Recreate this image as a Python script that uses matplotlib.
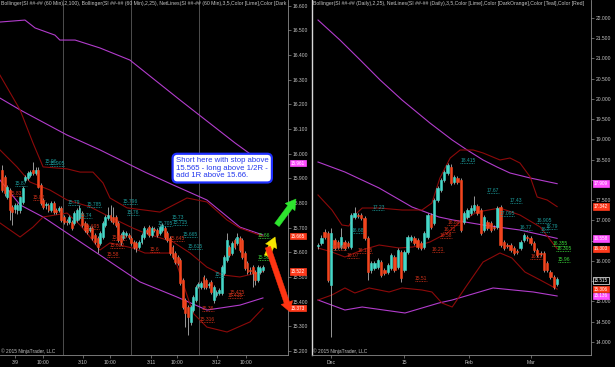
import matplotlib.pyplot as plt

plt.rcParams['font.family'] = ['Liberation Sans', 'DejaVu Sans']

UP = '#46d8c9'
DOWN = '#f2451e'
WICK = '#b0b0b0'
BB_RED = '#8c0a0a'
BB_MAG = '#b23ccc'
NL_TEAL = '#1c9c9c'
NL_RED = '#d2321a'
NL_LIME = '#3ad83a'
TXT = '#c4c4c4'

# ---------------- left panel: 60 min bars ----------------
l_open = [15.933, 15.905, 15.824, 15.852, 15.784, 15.775, 15.771, 15.771, 15.804, 15.893,
          15.901, 15.913, 15.933, 15.921, 15.933, 15.873, 15.812, 15.790, 15.792, 15.771,
          15.800, 15.772, 15.771, 15.780, 15.743, 15.728, 15.723, 15.723, 15.719, 15.731,
          15.739, 15.759, 15.719, 15.711, 15.690, 15.698, 15.670, 15.658, 15.638, 15.662,
          15.711, 15.739, 15.751, 15.743, 15.743, 15.719, 15.670, 15.658, 15.672, 15.670,
          15.658, 15.642, 15.638, 15.621, 15.642, 15.662, 15.690, 15.702, 15.670, 15.694,
          15.690, 15.678, 15.690, 15.698, 15.678, 15.658, 15.621, 15.597, 15.581, 15.569,
          15.488, 15.407, 15.378, 15.318, 15.366, 15.407, 15.462, 15.459, 15.500, 15.488,
          15.466, 15.480, 15.405, 15.427, 15.435, 15.435, 15.516, 15.569, 15.621, 15.597,
          15.650, 15.638, 15.658, 15.650, 15.597, 15.557, 15.530, 15.540, 15.520, 15.488,
          15.520, 15.528]
l_high = [15.954, 15.915, 15.873, 15.860, 15.792, 15.800, 15.800, 15.830, 15.870, 15.915,
          15.930, 15.935, 15.966, 15.945, 15.945, 15.880, 15.820, 15.804, 15.800, 15.808,
          15.808, 15.780, 15.788, 15.788, 15.751, 15.735, 15.751, 15.731, 15.767, 15.780,
          15.792, 15.767, 15.727, 15.719, 15.706, 15.706, 15.678, 15.666, 15.686, 15.727,
          15.751, 15.784, 15.792, 15.784, 15.751, 15.727, 15.678, 15.690, 15.686, 15.678,
          15.666, 15.650, 15.646, 15.650, 15.678, 15.706, 15.698, 15.710, 15.706, 15.702,
          15.698, 15.711, 15.720, 15.706, 15.686, 15.666, 15.630, 15.605, 15.589, 15.577,
          15.496, 15.415, 15.386, 15.386, 15.427, 15.467, 15.480, 15.484, 15.508, 15.496,
          15.478, 15.488, 15.467, 15.447, 15.455, 15.548, 15.589, 15.678, 15.630, 15.646,
          15.658, 15.678, 15.666, 15.658, 15.605, 15.565, 15.540, 15.548, 15.528, 15.548,
          15.544, 15.548]
l_low = [15.845, 15.830, 15.815, 15.731, 15.711, 15.760, 15.755, 15.760, 15.795, 15.885,
         15.893, 15.905, 15.913, 15.913, 15.860, 15.792, 15.775, 15.775, 15.763, 15.763,
         15.755, 15.755, 15.763, 15.723, 15.715, 15.711, 15.715, 15.690, 15.711, 15.723,
         15.731, 15.702, 15.682, 15.674, 15.682, 15.650, 15.634, 15.597, 15.630, 15.654,
         15.702, 15.731, 15.723, 15.715, 15.702, 15.642, 15.630, 15.650, 15.662, 15.654,
         15.630, 15.613, 15.601, 15.613, 15.634, 15.654, 15.674, 15.662, 15.662, 15.682,
         15.662, 15.670, 15.682, 15.654, 15.642, 15.589, 15.573, 15.553, 15.548, 15.467,
         15.370, 15.297, 15.265, 15.305, 15.358, 15.399, 15.455, 15.451, 15.451, 15.451,
         15.455, 15.431, 15.395, 15.419, 15.427, 15.427, 15.508, 15.561, 15.581, 15.589,
         15.613, 15.630, 15.601, 15.573, 15.528, 15.512, 15.512, 15.459, 15.467, 15.480,
         15.512, 15.520]
l_close = [15.852, 15.840, 15.865, 15.771, 15.763, 15.790, 15.792, 15.824, 15.861, 15.905,
           15.921, 15.925, 15.921, 15.933, 15.865, 15.800, 15.784, 15.795, 15.771, 15.800,
           15.763, 15.765, 15.780, 15.731, 15.723, 15.722, 15.743, 15.698, 15.759, 15.771,
           15.780, 15.711, 15.690, 15.682, 15.698, 15.658, 15.642, 15.621, 15.678, 15.719,
           15.743, 15.751, 15.731, 15.723, 15.711, 15.650, 15.642, 15.682, 15.678, 15.662,
           15.638, 15.621, 15.617, 15.642, 15.670, 15.698, 15.682, 15.670, 15.698, 15.690,
           15.670, 15.702, 15.711, 15.662, 15.650, 15.597, 15.581, 15.561, 15.557, 15.476,
           15.378, 15.354, 15.338, 15.378, 15.419, 15.459, 15.472, 15.476, 15.459, 15.459,
           15.470, 15.439, 15.459, 15.439, 15.447, 15.540, 15.581, 15.650, 15.589, 15.638,
           15.621, 15.662, 15.609, 15.581, 15.536, 15.520, 15.524, 15.516, 15.488, 15.540,
           15.536, 15.540]

l_sessions = [23.6, 49.9, 76.2]
l_tick_pos = [5.0, 15.9, 31.3, 41.8, 57.7, 67.7, 83.2, 94.4]
l_tick_lbl = ['3/9', '10:00', '3/10', '10:00', '3/11', '10:00', '3/12', '10:00']

l_bb100_up_x = [-0.8, 8.9, 12.8, 20.5, 22.4, 28.3, 37.9, 49.5, 68.9, 90.2, 101]
l_bb100_up = [16.533, 16.541, 16.509, 16.480, 16.460, 16.460, 16.428, 16.379, 16.217, 16.043, 15.961]
l_bb100_mid_x = [-0.8, 7, 25.2, 37.9, 55.3, 66.2, 79.3, 92.1, 101]
l_bb100_mid = [16.225, 16.177, 16.075, 16.015, 15.925, 15.873, 15.812, 15.702, 15.670]
l_bb100_lo_x = [-0.8, 7, 15.9, 37.9, 53.4, 67.7, 79.3, 92.1, 101]
l_bb100_lo = [15.893, 15.792, 15.743, 15.589, 15.480, 15.419, 15.366, 15.386, 15.415]
l_bb25_up_x = [-0.8, 7, 12, 15.9, 25.2, 30.2, 35.2, 39.1, 41.8, 48.4, 55.3, 61.1, 71.6, 79.3, 87.1, 92.1, 101]
l_bb25_up = [16.318, 16.177, 16.043, 15.946, 15.938, 15.925, 15.925, 15.881, 15.820, 15.780,
             15.771, 15.763, 15.820, 15.804, 15.731, 15.698, 15.665]
l_bb25_mid_x = [-0.8, 5.8, 10.8, 18.6, 25.2, 34.1, 41.8, 50.7, 55.3, 66.2, 72.8, 79.3, 85.5, 92.1, 101]
l_bb25_mid = [16.015, 15.946, 15.885, 15.852, 15.812, 15.784, 15.743, 15.698, 15.678, 15.642,
              15.597, 15.540, 15.508, 15.500, 15.522]
l_bb25_lo_x = [-0.8, 7, 12, 15.9, 25.2, 30.2, 34.1, 37.9, 41.8, 50.7, 55.3, 66.2, 73.9, 79.3, 87.1, 96, 101]
l_bb25_lo = [15.719, 15.662, 15.702, 15.743, 15.759, 15.711, 15.662, 15.609, 15.638, 15.617,
             15.597, 15.597, 15.354, 15.297, 15.277, 15.318, 15.373]

l_nl_text = ['15.96', '15.905', '15.87', '15.83', '15.82', '15.79', '15.785', '15.74', '15.695',
             '15.796', '15.76', '15.635', '15.632', '15.58', '15.705', '15.73', '15.715', '15.645',
             '15.665', '15.615', '15.6', '15.5', '15.425', '15.415', '15.36', '15.316', '15.66', '15.585']
l_nl_x = [16.6, 18.6, 5.0, 3.1, 12.0, 25.5, 32.9, 30.2, 32.1, 46.8, 48.4, 42.6, 41.8, 40.6,
          60.4, 65.8, 66.2, 65.0, 70.0, 72.0, 57.3, 82.4, 88.2, 87.5, 77.4, 76.6, 99.1, 99.1]
l_nl_level = [15.958, 15.950, 15.869, 15.828, 15.812, 15.792, 15.784, 15.739, 15.694, 15.796,
              15.751, 15.650, 15.617, 15.581, 15.707, 15.731, 15.711, 15.646, 15.662, 15.613,
              15.601, 15.500, 15.427, 15.415, 15.362, 15.318, 15.658, 15.569]
l_nl_kind = ['t', 't', 't', 'r', 'r', 't', 't', 't', 'r', 't', 't', 'r', 'r', 'r', 't', 't', 't', 'r',
             't', 't', 'r', 't', 'r', 'r', 'r', 'r', 'g', 'g']

l_tags = [15.961, 15.665, 15.522, 15.373]
l_tag_kind = ['m', 'r', 'r', 'r']

# ---------------- right panel: daily bars ----------------
r_open = [16.370, 16.444, 16.716, 16.691, 15.407, 16.518, 16.469, 16.346, 16.469, 16.444,
          16.346, 17.086, 17.136, 17.136, 17.062, 16.568, 15.778, 15.827, 15.850, 15.975,
          15.778, 15.728, 15.827, 16.100, 15.850, 16.222, 15.778, 16.222, 16.518, 16.568,
          16.518, 16.444, 16.346, 16.593, 17.136, 16.938, 17.506, 17.753, 17.999, 18.175,
          18.321, 17.950, 18.050, 17.999, 16.963, 17.086, 17.185, 17.259, 17.358, 17.259,
          16.765, 16.963, 16.938, 16.840, 16.839, 17.333, 16.469, 16.400, 16.395, 16.321,
          16.250, 16.321, 16.518, 16.600, 16.568, 16.444, 16.272, 16.200, 16.198, 15.951,
          15.728, 15.605, 15.432]
r_high = [16.450, 16.642, 16.780, 16.740, 16.815, 16.580, 16.520, 16.815, 16.520, 16.500,
          17.190, 17.333, 17.190, 17.190, 17.110, 16.620, 16.000, 16.000, 16.070, 16.030,
          15.830, 15.950, 16.200, 16.150, 16.330, 16.270, 16.270, 16.640, 16.640, 16.620,
          16.570, 16.490, 16.740, 17.190, 17.190, 17.560, 17.850, 18.050, 18.250, 18.420,
          18.400, 18.120, 18.100, 18.050, 17.240, 17.310, 17.380, 17.600, 17.410, 17.310,
          17.140, 17.010, 16.990, 16.890, 17.360, 17.380, 16.520, 16.450, 16.440, 16.370,
          16.300, 16.520, 16.690, 16.650, 16.620, 16.490, 16.320, 16.250, 16.250, 16.000,
          15.780, 15.650, 15.600]
r_low = [16.300, 16.400, 16.550, 15.480, 14.124, 16.270, 16.300, 16.300, 16.270, 16.320,
         16.300, 17.040, 17.050, 17.010, 16.520, 15.531, 15.700, 15.780, 15.800, 15.600,
         15.650, 15.680, 15.780, 15.730, 15.800, 15.481, 15.730, 16.170, 16.470, 16.400,
         16.300, 16.270, 16.300, 16.550, 16.790, 16.890, 17.460, 17.700, 17.950, 18.120,
         17.880, 17.900, 17.900, 16.720, 16.910, 17.040, 17.140, 17.210, 17.140, 16.640,
         16.720, 16.770, 16.720, 16.770, 16.790, 16.350, 16.270, 16.330, 16.220, 16.150,
         16.180, 16.270, 16.470, 16.500, 16.400, 16.220, 16.100, 16.120, 15.730, 15.730,
         15.560, 15.310, 15.380]
r_close = [16.390, 16.568, 16.593, 15.531, 16.691, 16.321, 16.346, 16.593, 16.321, 16.370,
           17.136, 17.185, 17.100, 17.062, 16.568, 15.728, 15.951, 15.951, 16.025, 15.654,
           15.700, 15.901, 16.148, 15.778, 16.272, 15.580, 16.222, 16.593, 16.593, 16.444,
           16.346, 16.321, 16.691, 17.136, 16.839, 17.506, 17.802, 17.999, 18.198, 18.370,
           17.926, 18.074, 17.950, 16.765, 17.185, 17.259, 17.308, 17.382, 17.185, 16.691,
           17.086, 16.815, 16.765, 16.815, 17.308, 16.395, 16.321, 16.380, 16.272, 16.198,
           16.230, 16.469, 16.642, 16.560, 16.444, 16.272, 16.148, 16.170, 15.778, 15.778,
           15.605, 15.358, 15.555]

r_tick_pos = [3.9, 25.9, 45.5, 64.2]
r_tick_lbl = ['Dec', '15', 'Feb', 'Mar']
# price ticks of the daily axis that sit under a value tag (hidden there)
r_hidden_ticks = [18.0, 16.5, 15.5]

r_mag_up_x = [0, 6.6, 12.7, 18.7, 25.3, 33.7, 40.4, 44.9, 49.7, 53.9, 57.8, 63.9, 72]
r_mag_up = [21.95, 21.456, 20.963, 20.469, 19.975, 19.407, 18.988, 18.741, 18.494, 18.321,
            18.173, 18.049, 17.909]
r_mag_mid_x = [0, 8.1, 18.4, 28.3, 36.4, 40.7, 49.7, 60.8, 72]
r_mag_mid = [18.444, 18.197, 17.802, 17.333, 17.086, 17.012, 16.889, 16.765, 16.558]
r_mag_lo_x = [0, 8.1, 13.3, 26.2, 36.4, 40.4, 52.7, 64.8, 72]
r_mag_lo = [15.037, 14.790, 14.864, 14.716, 14.963, 15.037, 15.334, 15.235, 15.136]
r_red_up_x = [0, 4.2, 7.2, 9.3, 11.1, 13.3, 18.4, 25.3, 31.3, 34.3, 36.7, 39.8, 42.8, 46.7,
              49.7, 54.8, 57.8, 60.8, 63.9, 66, 69, 72]
r_red_up = [17.63, 17.259, 16.889, 16.864, 17.136, 17.308, 17.308, 17.259, 17.259, 17.432,
            18.049, 18.543, 18.741, 18.741, 18.667, 18.494, 18.543, 18.42, 18.074, 17.58,
            17.506, 17.342]
r_red_mid_x = [0, 4.2, 8.1, 13.3, 18.4, 24.4, 28.6, 33.7, 38.9, 42.8, 47.9, 54.8, 60.8, 66.9, 72]
r_red_mid = [16.321, 16.222, 16.099, 16.272, 16.395, 16.321, 16.346, 16.469, 16.691, 16.963,
             17.209, 17.308, 17.136, 16.839, 16.303]
r_red_lo_x = [0, 4.2, 8.1, 11.1, 15.4, 21.4, 25.3, 31.3, 34.3, 37.3, 40.4, 44.9, 49.7, 54.8,
              58.4, 62.3, 66.9, 72]
r_red_lo = [15.037, 15.161, 15.334, 15.21, 15.334, 15.235, 15.334, 15.284, 15.235, 14.963,
            14.864, 15.407, 15.975, 16.198, 16.074, 15.728, 15.531, 15.306]

r_nl_text = ['17.23', '16.68', '16.245', '16.185', '16.07', '15.51', '16.21', '16.58', '16.71',
             '16.89', '18.415', '17.67', '17.43', '17.095', '16.905', '16.79', '16.77', '16.7',
             '16.11', '16.355', '16.305', '15.96']
r_nl_x = [16.3, 10.2, 4.2, 12.0, 8.7, 29.2, 34.3, 36.7, 37.7, 38.9, 42.8, 50.9, 57.8, 54.8,
          65.7, 68.4, 60.8, 66.9, 63.9, 70.5, 71.7, 72.3]
r_nl_level = [17.259, 16.691, 16.272, 16.198, 16.074, 15.506, 16.222, 16.568, 16.716, 16.889,
              18.42, 17.679, 17.432, 17.11, 16.938, 16.79, 16.765, 16.716, 16.05, 16.37,
              16.247, 15.975]
r_nl_kind = ['t', 't', 'r', 'r', 'r', 'r', 'r', 'r', 'r', 'r', 't', 't', 't', 't', 't', 't', 't',
             't', 'r', 'g', 'g', 'g']

r_tags = [17.909, 17.342, 16.558, 16.303, 15.515, 15.306, 15.136]
r_tag_kind = ['m', 'r', 'm', 'r', 'k', 'r', 'm']

note = 'Short here with stop above\n15.565 - long above 1/2R -\nadd 1R above 15.66.'

title_l = ('Bollinger(SI ##-## (60 Min),2,100), Bollinger(SI ##-## (60 Min),2,25), '
           'NetLines(SI ##-## (60 Min),3,5,Color [Lime],Color [Dark')
title_r = ('Bollinger(SI ##-## (Daily),2,25), NetLines(SI ##-## (Daily),3,5,Color [Lime],'
           'Color [DarkOrange],Color [Teal],Color [Red]')

nl_colors = {'t': NL_TEAL, 'r': NL_RED, 'g': NL_LIME}
tag_colors = {'m': '#ff4cff', 'r': '#ff3a1c', 'k': 'black'}


def candles(ax, o, h, l, c):
    x = list(range(len(o)))
    ax.vlines(x, l, h, color=WICK, lw=0.6, zorder=3)
    bottoms = [min(a, b) for a, b in zip(o, c)]
    heights = [abs(a - b) for a, b in zip(o, c)]
    cols = [UP if b >= a else DOWN for a, b in zip(o, c)]
    ax.bar(x, heights, bottom=bottoms, width=0.72, color=cols, edgecolor=cols, lw=0.4, zorder=4)


def netlines(ax, texts, xs, levels, kinds, per_char):
    for t, x, y, k in zip(texts, xs, levels, kinds):
        col = nl_colors[k]
        ax.hlines(y, x, x + per_char * len(t), colors=col, linestyles=(0, (1, 1)), lw=0.6, zorder=5)
        ax.text(x, y, t, color=col, fontsize=3.6, ha='left', va='bottom', zorder=5)


def tags(ax, vals, kinds):
    for v, k in zip(vals, kinds):
        fc = tag_colors[k]
        ec = 'white' if k == 'k' else fc
        ax.annotate(f'{v:.3f}', xy=(1, v), xycoords=('axes fraction', 'data'),
                    xytext=(2.2, 0), textcoords='offset points', ha='left', va='center',
                    fontsize=3.3, color='white', annotation_clip=False, zorder=8,
                    bbox=dict(boxstyle='square,pad=0.15', fc=fc, ec=ec, lw=0.5))


def style(ax, title, left_spine):
    ax.set_facecolor('black')
    ax.yaxis.tick_right()
    ax.tick_params(axis='y', colors='#8a8a8a', labelcolor=TXT, labelsize=3.6, length=2,
                   width=0.5, pad=1.5)
    ax.tick_params(axis='x', colors='#8a8a8a', labelcolor=TXT, labelsize=3.6, length=2,
                   width=0.5, pad=1.5)
    ax.spines['top'].set_visible(False)
    ax.spines['left'].set_visible(left_spine)
    ax.spines['left'].set_color('#d8d8d8')
    ax.spines['left'].set_linewidth(1.0)
    for s in ['right', 'bottom']:
        ax.spines[s].set_color('#8a8a8a')
        ax.spines[s].set_linewidth(0.6)
    ax.text(0.004, 0.997, title, transform=ax.transAxes, fontsize=3.7, color=TXT,
            ha='left', va='top', clip_on=True, zorder=9)
    ax.text(0.004, 0.004, '\u00a9 2015 NinjaTrader, LLC', transform=ax.transAxes,
            fontsize=3.5, color=TXT, ha='left', va='bottom', zorder=9)


fig = plt.figure(figsize=(6.15, 3.67), dpi=100, facecolor='black')
axl = fig.add_axes([0, 12 / 367, 288 / 615, 355 / 367])
axr = fig.add_axes([312 / 615, 12 / 367, 279 / 615, 355 / 367])

# left panel
for s in l_sessions:
    axl.axvline(s, color='#5a5a5a', lw=0.6, zorder=1)
axl.plot(l_bb100_up_x, l_bb100_up, color=BB_MAG, lw=0.8, zorder=2)
axl.plot(l_bb100_mid_x, l_bb100_mid, color=BB_MAG, lw=0.8, zorder=2)
axl.plot(l_bb100_lo_x, l_bb100_lo, color=BB_MAG, lw=0.8, zorder=2)
axl.plot(l_bb25_up_x, l_bb25_up, color=BB_RED, lw=0.8, zorder=2)
axl.plot(l_bb25_mid_x, l_bb25_mid, color=BB_RED, lw=0.8, zorder=2)
axl.plot(l_bb25_lo_x, l_bb25_lo, color=BB_RED, lw=0.8, zorder=2)
candles(axl, l_open, l_high, l_low, l_close)
netlines(axl, l_nl_text, l_nl_x, l_nl_level, l_nl_kind, 0.93)
axl.set_xlim(-0.77, 110.7)
axl.set_ylim(15.1838, 16.6223)
l_yt = [15.2 + 0.1 * i for i in range(15)]
axl.set_yticks(l_yt)
axl.set_yticklabels([f'{v:.3f}' for v in l_yt])
axl.set_xticks(l_tick_pos)
axl.set_xticklabels(l_tick_lbl)
style(axl, title_l, False)
tags(axl, l_tags, l_tag_kind)

axl.text(67.3, 15.986, note, fontsize=5.6, color='#2438ee', ha='left', va='top',
         linespacing=1.12, zorder=10,
         bbox=dict(boxstyle='round,pad=0.42,rounding_size=0.6', fc='white', ec='#1f30ff', lw=1.6))

arrow_specs = [((106.4, 15.711), (113.8, 15.816), '#2ee62e'),
               ((102.6, 15.585), (105.7, 15.662), '#f5e600'),
               ((102.9, 15.621), (111.5, 15.358), '#ff3412')]
for tail, head, col in arrow_specs:
    axl.annotate('', xy=head, xytext=tail, annotation_clip=False, zorder=11,
                 arrowprops=dict(arrowstyle='simple,head_width=1.1,head_length=0.9,tail_width=0.5',
                                 mutation_scale=8, fc=col, ec=col, lw=0.3,
                                 shrinkA=0, shrinkB=0))

# right panel
axr.plot(r_mag_up_x, r_mag_up, color=BB_MAG, lw=0.8, zorder=2)
axr.plot(r_mag_mid_x, r_mag_mid, color=BB_MAG, lw=0.8, zorder=2)
axr.plot(r_mag_lo_x, r_mag_lo, color=BB_MAG, lw=0.8, zorder=2)
axr.plot(r_red_up_x, r_red_up, color=BB_RED, lw=0.8, zorder=2)
axr.plot(r_red_mid_x, r_red_mid, color=BB_RED, lw=0.8, zorder=2)
axr.plot(r_red_lo_x, r_red_lo, color=BB_RED, lw=0.8, zorder=2)
candles(axr, r_open, r_high, r_low, r_close)
netlines(axr, r_nl_text, r_nl_x, r_nl_level, r_nl_kind, 0.72)
axr.set_xlim(-1.81, 82.2)
axr.set_ylim(13.679, 22.444)
r_yt = [14 + 0.5 * i for i in range(17)]
axr.set_yticks(r_yt)
axr.set_yticklabels(['' if round(v, 1) in r_hidden_ticks else f'{v:.3f}' for v in r_yt])
axr.set_xticks(r_tick_pos)
axr.set_xticklabels(r_tick_lbl)
style(axr, title_r, True)
tags(axr, r_tags, r_tag_kind)

fig.savefig('out.png', dpi=100, facecolor='black')
